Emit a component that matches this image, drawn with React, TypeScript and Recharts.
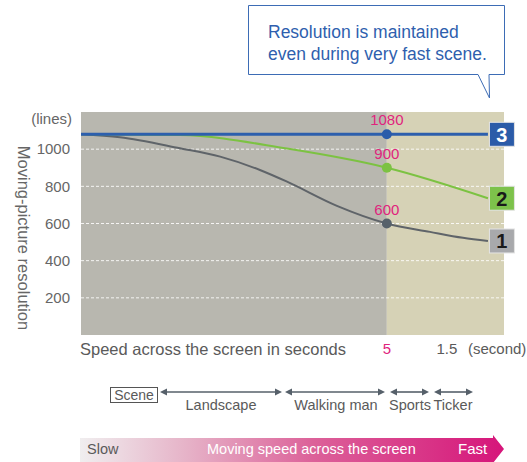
import { ComposedChart, Line, XAxis, YAxis, ReferenceArea, ReferenceLine } from "recharts";

// x = horizontal position along the speed scale (0 = slowest, 100 = right edge)
const POINT_X = 72.3;

const line1X = [0, 9.2, 23.4, 32.9, 42.3, 48.7, 60.5, 72.3, 82.5, 90.3, 96.2];
const line1Y = [1080, 1064, 1005, 960, 888, 825, 695, 600, 555, 523, 506];
const line2X = [0, 23.4, 48.7, 72.3, 96.2];
const line2Y = [1080, 1076, 1003, 900, 736];
const line3X = [0, 72.3, 96.2];
const line3Y = [1080, 1080, 1080];

const yTicks = [200, 400, 600, 800, 1000];
const xTicks = [72.3, 86.5];
const xTickLabels = ["5", "1.5"];

const sceneLabels = ["Landscape", "Walking man", "Sports", "Ticker"];

const FONT = '"Liberation Sans", Arial, sans-serif';
const MAGENTA = "#e0247d";
const TEXT_GRAY = "#5a5a5a";

const series = [
  { id: "1", xs: line1X, ys: line1Y, stroke: "#5f6469", dotFill: "#56616a", boxFill: "#a8a9ac", boxText: "#1a1a1a", width: 2, curve: "monotone" },
  { id: "2", xs: line2X, ys: line2Y, stroke: "#7cc242", dotFill: "#7cc242", boxFill: "#7dc24b", boxText: "#1a1a1a", width: 2, curve: "monotone" },
  { id: "3", xs: line3X, ys: line3Y, stroke: "#2d5fad", dotFill: "#2b5caa", boxFill: "#2b5ba8", boxText: "#ffffff", width: 3, curve: "linear" },
];

const toPoints = (xs: number[], ys: number[]) => xs.map((x, i) => ({ x, y: ys[i] }));

function XTick(props: any) {
  const { x, y, payload } = props;
  const i = xTicks.indexOf(payload.value);
  return (
    <text x={x} y={y} dy="0.71em" textAnchor="middle" fontSize={15} fontFamily={FONT} fill={i === 0 ? MAGENTA : TEXT_GRAY}>
      {xTickLabels[i]}
    </text>
  );
}

function makeLabel(s: (typeof series)[number]) {
  const mid = s.xs.indexOf(POINT_X);
  const last = s.xs.length - 1;
  return (p: any) => {
    const { x, y, index, value } = p;
    if (index === mid) {
      return (
        <text key={`l${index}`} x={x} y={y - 9} textAnchor="middle" fontSize={15} fontFamily={FONT} fill={MAGENTA}>
          {value}
        </text>
      );
    }
    if (index === last) {
      return (
        <g key={`l${index}`}>
          <rect x={x + 1.5} y={y - 12} width={25} height={24} fill={s.boxFill} stroke="#e4e4e4" strokeWidth={1} />
          <text x={x + 14} y={y + 7.5} textAnchor="middle" fontSize={20} fontWeight="bold" fontFamily={FONT} fill={s.boxText}>
            {s.id}
          </text>
        </g>
      );
    }
    return <g key={`l${index}`} />;
  };
}

function makeDot(s: (typeof series)[number]) {
  return (p: any) => {
    const { cx, cy, payload, index } = p;
    if (payload.x !== POINT_X) return <g key={`d${index}`} />;
    return <circle key={`d${index}`} cx={cx} cy={cy} r={5} fill={s.dotFill} />;
  };
}

function Arrow({ x1, x2, y }: { x1: number; x2: number; y: number }) {
  const c = "#56606a";
  return (
    <g>
      <line x1={x1 + 4} x2={x2 - 4} y1={y} y2={y} stroke={c} strokeWidth={1.6} />
      <polygon points={`${x1},${y} ${x1 + 7},${y - 3.5} ${x1 + 7},${y + 3.5}`} fill={c} />
      <polygon points={`${x2},${y} ${x2 - 7},${y - 3.5} ${x2 - 7},${y + 3.5}`} fill={c} />
    </g>
  );
}

const sceneRanges = [
  [160, 282],
  [285, 385],
  [390, 429],
  [434, 473],
];
const sceneCenters = [221, 336, 410, 453];

export default function App() {
  return (
    <div style={{ position: "relative", width: 527, height: 462, background: "#fff", fontFamily: FONT }}>
      <style>{"body{margin:0}"}</style>
      <ComposedChart width={527} height={462} margin={{ top: 112, right: 23, bottom: 97, left: 41 }}>
        <XAxis
          dataKey="x"
          type="number"
          domain={[0, 100]}
          ticks={xTicks}
          tick={<XTick />}
          axisLine={false}
          tickLine={false}
          height={30}
          allowDataOverflow
        />
        <YAxis
          type="number"
          domain={[0, 1200]}
          ticks={yTicks}
          width={40}
          axisLine={false}
          tickLine={false}
          tickMargin={5}
          tick={{ fontSize: 15, fill: "#666", fontFamily: FONT }}
          allowDataOverflow
        />
        <ReferenceArea x1={0} x2={POINT_X} y1={0} y2={1200} fill="#b8b7af" fillOpacity={1} stroke="none" />
        <ReferenceArea x1={POINT_X} x2={100} y1={0} y2={1200} fill="#d6d2b6" fillOpacity={1} stroke="none" />
        {yTicks.map((t) => (
          <ReferenceLine key={t} y={t} stroke="#ffffff" strokeOpacity={0.85} strokeDasharray="3 2" strokeWidth={1} />
        ))}
        {series.map((s) => (
          <Line
            key={s.id}
            data={toPoints(s.xs, s.ys)}
            dataKey="y"
            type={s.curve as any}
            stroke={s.stroke}
            strokeWidth={s.width}
            dot={makeDot(s)}
            activeDot={false}
            label={makeLabel(s)}
            isAnimationActive={false}
          />
        ))}
      </ComposedChart>

      <svg width={527} height={462} style={{ position: "absolute", left: 0, top: 0, pointerEvents: "none" }} fontFamily={FONT}>
        <defs>
          <linearGradient id="speedGrad" x1="0" x2="1" y1="0" y2="0">
            <stop offset="0%" stopColor="#f0eeef" />
            <stop offset="25%" stopColor="#e6b3c8" />
            <stop offset="55%" stopColor="#dc6199" />
            <stop offset="100%" stopColor="#d6157a" />
          </linearGradient>
        </defs>

        {/* callout */}
        <path d="M248.5,5.5 H504.5 V74.5 H489 L489.5,98 L478,74.5 H248.5 Z" fill="#fff" stroke="#3d6cb5" strokeWidth={1} />
        <text x={268} y={38} fontSize={17.5} fill="#2f5fae">Resolution is maintained</text>
        <text x={268} y={59.5} fontSize={17.5} fill="#2f5fae">even during very fast scene.</text>

        <text x={72} y={124} textAnchor="end" fontSize={15} fill="#666">(lines)</text>
        <text x={24} y={238} textAnchor="middle" dominantBaseline="central" fontSize={16.5} fill="#666" transform="rotate(90 24 238)">
          Moving-picture resolution
        </text>

        <text x={80} y={355} fontSize={16.5} fill={TEXT_GRAY}>Speed across the screen in seconds</text>
        <text x={468} y={353.5} fontSize={15} fill={TEXT_GRAY}>(second)</text>

        {/* scene row */}
        <rect x={110.5} y={387.5} width={47} height={15} fill="none" stroke="#555" strokeWidth={1} />
        <text x={134} y={400} textAnchor="middle" fontSize={14} fill={TEXT_GRAY}>Scene</text>
        {sceneRanges.map(([a, b], i) => (
          <Arrow key={i} x1={a} x2={b} y={392} />
        ))}
        {sceneLabels.map((l, i) => (
          <text key={l} x={sceneCenters[i]} y={410} textAnchor="middle" fontSize={14.5} fill={TEXT_GRAY}>
            {l}
          </text>
        ))}

        {/* speed arrow */}
        <path d="M80,438 H493 V435 L504,449 L493,463 V462 H80 Z" fill="url(#speedGrad)" />
        <text x={87} y={454} fontSize={14.5} fill={TEXT_GRAY}>Slow</text>
        <text x={207} y={454} fontSize={14.5} fill="#fff">Moving speed across the screen</text>
        <text x={458} y={454} fontSize={15} fill="#fff">Fast</text>
      </svg>
    </div>
  );
}
